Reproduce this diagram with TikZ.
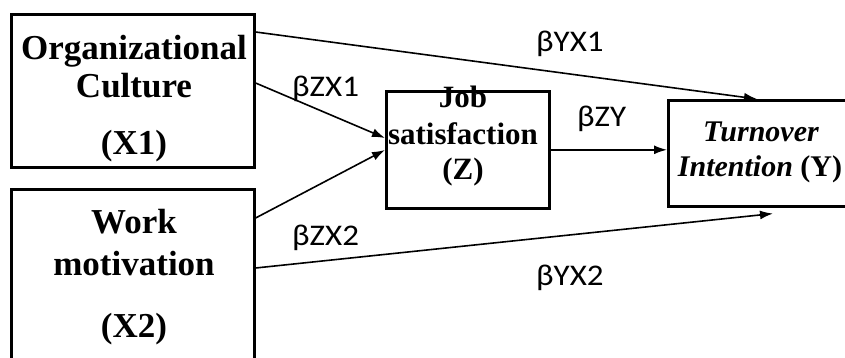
\documentclass[tikz,border=0pt]{standalone}
\usepackage{fontspec}
\usepackage{graphicx}
\setmainfont{Liberation Serif}
\newfontfamily\labfont{Carlito}
\usetikzlibrary{arrows.meta}
\begin{document}
\begin{tikzpicture}[x=1pt,y=-1pt,
  box/.style={draw, line width=2.6pt, inner sep=0pt, anchor=north west},
  big/.style={font=\bfseries\fontsize{35}{40}\selectfont, inner sep=0pt, anchor=base},
  mid/.style={font=\bfseries\fontsize{31}{36}\selectfont, inner sep=0pt, anchor=base},
  lab/.style={font=\labfont\fontsize{30}{32}\selectfont, inner sep=0pt, anchor=base west},
  conn/.style={line width=1.6pt, -{Latex[length=13pt,width=9pt]}}]
\clip (0,0) rectangle (845,358);
\fill[white] (0,0) rectangle (845,358);
% boxes
\node[box, minimum width=243pt, minimum height=153pt] (ox1) at (10,13) {};
\node[box, minimum width=243pt, minimum height=220pt] (ox2) at (10,188) {};
\node[box, minimum width=163pt, minimum height=117pt] (oz) at (385,90) {};
\node[box, minimum width=200pt, minimum height=106pt] (oy) at (667,99) {};
% texts
\node[big] (t1a) at (134,60) {Organizational};
\node[big] (t1b) at (134,98) {Culture};
\node[big] (t1c) at (134,155) {(X1)};
\node[big] (t2a) at (134,233) {Work};
\node[big] (t2b) at (134,275) {motivation};
\node[big] (t2c) at (134,337) {(X2)};
\node[mid] (tza) at (463,108) {Job};
\node[mid] (tzb) at (463,145) {satisfaction};
\node[mid] (tzc) at (463,179) {(Z)};
\node[mid, font=\bfseries\itshape\fontsize{30}{34}\selectfont] (tya) at (761,142) {Turnover};
\node[mid, font=\bfseries\fontsize{30}{34}\selectfont] (tyb) at (760,177) {\textit{Intention} (Y)};
% connectors
\draw[conn] ([yshift=-19pt]ox1.north east) -- ([xshift=90pt]oy.north west);
\draw[conn] ([yshift=-70pt]ox1.north east) -- ([yshift=-48pt]oz.north west);
\draw[conn] ([yshift=-30pt]ox2.north east) -- ([yshift=-60pt]oz.north west);
\draw[conn] ([yshift=-80pt]ox2.north east) -- ([xshift=106pt,yshift=-6pt]oy.south west);
\draw[conn] (oz.east) -- (oy.west |- oz.east);
% labels
\node[lab] (l1) at (536,52) {\scalebox{1.1}[1]{βYX1}};
\node[lab] (l2) at (292,97) {\scalebox{1.1}[1]{βZX1}};
\node[lab] (l3) at (577,127) {\scalebox{1.1}[1]{βZY}};
\node[lab] (l4) at (292,245) {\scalebox{1.1}[1]{βZX2}};
\node[lab] (l5) at (536,285) {\scalebox{1.1}[1]{βYX2}};
\end{tikzpicture}
\end{document}
